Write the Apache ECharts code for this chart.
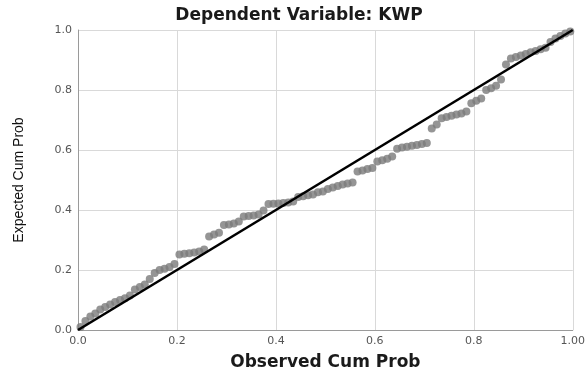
<!DOCTYPE html>
<html>
<head>
<meta charset="utf-8">
<script src="https://cdn.jsdelivr.net/npm/echarts@6/dist/echarts.min.js"></script>
<style>
html,body{margin:0;padding:0;background:#fff;}
#chart{width:588px;height:376px;}
</style>
</head>
<body>
<div id="chart"></div>
<script>
const chartTitle = 'Dependent Variable: KWP';
const xAxisTitle = 'Observed Cum Prob';
const yAxisTitle = 'Expected Cum Prob';
const xTickLabels = ['0.0','0.2','0.4','0.6','0.8','1.00'];
const yTickLabels = ['0.0','0.2','0.4','0.6','0.8','1.0'];

const observedCumProb = [
  0.005,0.015,0.025,0.035,0.045,0.055,0.065,0.075,0.085,0.095,
  0.105,0.115,0.125,0.135,0.145,0.155,0.165,0.175,0.185,0.195,
  0.205,0.215,0.225,0.235,0.245,0.255,0.265,0.275,0.285,0.295,
  0.305,0.315,0.325,0.335,0.345,0.355,0.365,0.375,0.385,0.395,
  0.405,0.415,0.425,0.435,0.445,0.455,0.465,0.475,0.485,0.495,
  0.505,0.515,0.525,0.535,0.545,0.555,0.565,0.575,0.585,0.595,
  0.605,0.615,0.625,0.635,0.645,0.655,0.665,0.675,0.685,0.695,
  0.705,0.715,0.725,0.735,0.745,0.755,0.765,0.775,0.785,0.795,
  0.805,0.815,0.825,0.835,0.845,0.855,0.865,0.875,0.885,0.895,
  0.905,0.915,0.925,0.935,0.945,0.955,0.965,0.975,0.985,0.995
];
const expectedCumProb = [
  0.010,0.030,0.045,0.055,0.068,0.077,0.085,0.093,0.100,0.106,
  0.115,0.135,0.143,0.152,0.170,0.190,0.200,0.204,0.210,0.220,
  0.252,0.254,0.256,0.258,0.262,0.268,0.312,0.318,0.324,0.350,
  0.352,0.355,0.362,0.378,0.380,0.382,0.385,0.398,0.420,0.421,
  0.422,0.423,0.425,0.428,0.443,0.446,0.449,0.452,0.459,0.462,
  0.470,0.475,0.480,0.485,0.488,0.492,0.528,0.532,0.537,0.540,
  0.562,0.566,0.571,0.578,0.604,0.608,0.611,0.614,0.617,0.620,
  0.623,0.672,0.685,0.706,0.710,0.714,0.718,0.722,0.728,0.756,
  0.764,0.772,0.800,0.806,0.814,0.835,0.885,0.905,0.910,0.915,
  0.920,0.926,0.930,0.936,0.941,0.960,0.972,0.980,0.988,0.995
];
const referenceLineX = [0, 1];
const referenceLineY = [0, 1];

const points = observedCumProb.map((x, i) => [x, expectedCumProb[i]]);
const refLine = referenceLineX.map((x, i) => [x, referenceLineY[i]]);

const chart = echarts.init(document.getElementById('chart'), null, {renderer: 'canvas'});
chart.setOption({
  animation: false,
  backgroundColor: '#ffffff',
  title: {
    text: chartTitle,
    left: 294,
    top: 2,
    textAlign: 'center',
    textStyle: {fontFamily: 'DejaVu Sans', fontWeight: 'bold', fontSize: 17, color: '#1a1a1a'}
  },
  grid: {left: 78, right: 14, top: 30, bottom: 38, containLabel: false},
  xAxis: {
    type: 'value', min: 0, max: 1, interval: 0.2,
    name: xAxisTitle, nameLocation: 'middle', nameGap: 24,
    nameTextStyle: {fontFamily: 'DejaVu Sans', fontWeight: 'bold', fontSize: 17, color: '#1a1a1a'},
    axisLine: {show: true, lineStyle: {color: '#9a9a9a', width: 1}},
    axisTick: {show: false},
    axisLabel: {
      margin: 6, fontFamily: 'DejaVu Sans', fontSize: 11, color: '#555',
      formatter: v => xTickLabels[Math.round(v / 0.2)]
    },
    splitLine: {show: true, lineStyle: {color: '#d9d9d9', width: 1}}
  },
  yAxis: {
    type: 'value', min: 0, max: 1, interval: 0.2,
    name: yAxisTitle, nameLocation: 'middle', nameGap: 52,
    nameTextStyle: {fontFamily: 'Liberation Sans', fontSize: 14, color: '#111'},
    axisLine: {show: true, lineStyle: {color: '#9a9a9a', width: 1}},
    axisTick: {show: false},
    axisLabel: {
      margin: 6, fontFamily: 'DejaVu Sans', fontSize: 11, color: '#555',
      formatter: v => yTickLabels[Math.round(v / 0.2)]
    },
    splitLine: {show: true, lineStyle: {color: '#d9d9d9', width: 1}}
  },
  series: [
    {
      type: 'scatter', data: points, symbol: 'circle', symbolSize: 8,
      itemStyle: {color: '#7a7a7a'}, z: 2
    },
    {
      type: 'line', data: refLine, showSymbol: false, symbol: 'none',
      lineStyle: {color: '#000', width: 2.6}, z: 3
    }
  ]
});
</script>
</body>
</html>
